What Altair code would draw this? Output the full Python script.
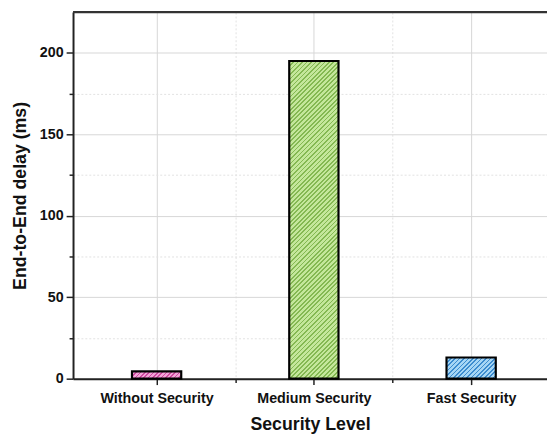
import math
import altair as alt
import pandas as pd

# ---- data ----
categories = ["Without Security", "Medium Security", "Fast Security"]
delays = [4.5, 195.0, 13.0]
base_colors = ["#f3a3d8", "#c4e79b", "#a6d6f5"]
stripe_colors = ["#cf4aa0", "#84b852", "#3d8ccf"]
y_major = [0, 50, 100, 150, 200]
y_minor = [25, 75, 125, 175]

PLOT_W = 481
PLOT_H = 372
Y_MAX = 225
X_MIN, X_MAX = 0.5, 3.451
BAR_W = 50
PERIOD = 3.2  # stripe period (px, perpendicular)
FONT = "Liberation Sans"


def hatch(value, light, dark):
    w = BAR_W
    h = max(value * PLOT_H / Y_MAX, 1.0)
    s = (1 / h + 1 / w) / (1 / h ** 2 + 1 / w ** 2)
    x2, y2 = s / h, s / w
    n = max(int(round((w + h) / math.sqrt(2) / PERIOD)), 1)
    stops = []
    for i in range(n):
        a = i / n
        b = (i + 0.4) / n
        c = (i + 1) / n
        stops += [
            alt.GradientStop(offset=a, color=dark),
            alt.GradientStop(offset=b, color=dark),
            alt.GradientStop(offset=b, color=light),
            alt.GradientStop(offset=c, color=light),
        ]
    return alt.LinearGradient(gradient="linear", stops=stops, x1=0, y1=0, x2=x2, y2=y2)


df = pd.DataFrame({
    "pos": [1, 2, 3],
    "cat": categories,
    "delay": delays,
})

label_expr = " : ".join(
    f"datum.value == {i + 1} ? '{c}'" for i, c in enumerate(categories)
) + " : ''"

x_enc = alt.X(
    "pos:Q",
    scale=alt.Scale(domain=[X_MIN, X_MAX], nice=False, zero=False),
    axis=alt.Axis(
        title="Security Level",
        values=[1, 1.5, 2, 2.5, 3],
        labelExpr=label_expr,
        labelFont=FONT, labelFontSize=14.5, labelFontWeight="bold", labelColor="#111",
        labelPadding=7,
        titleFont=FONT, titleFontSize=18, titleFontWeight="bold", titleColor="#111",
        titlePadding=11,
        domainColor="#222", domainWidth=2,
        tickColor="#222", tickWidth=1.5,
        tickSize={"condition": {"test": "datum.value % 1 != 0", "value": 4}, "value": 6},
        grid=True,
        gridColor={"condition": {"test": "datum.value % 1 != 0", "value": "#e2e2e2"}, "value": "#d6d6d6"},
        gridDash={"condition": {"test": "datum.value % 1 != 0", "value": [2, 2]}, "value": []},
        labelOverlap=False,
        labelFlush=False,
    ),
)

y_enc = alt.Y(
    "delay:Q",
    scale=alt.Scale(domain=[0, Y_MAX], nice=False),
    axis=alt.Axis(
        title="End-to-End delay (ms)",
        values=sorted(y_major + y_minor),
        labelExpr="datum.value % 50 == 0 ? datum.label : ''",
        labelFont=FONT, labelFontSize=14.5, labelFontWeight="bold", labelColor="#111",
        labelPadding=3,
        titleFont=FONT, titleFontSize=18, titleFontWeight="bold", titleColor="#111",
        titlePadding=10,
        domainColor="#222", domainWidth=2,
        tickColor="#222", tickWidth=1.5,
        tickSize={"condition": {"test": "datum.value % 50 != 0", "value": 4}, "value": 7},
        grid=True,
        gridColor={"condition": {"test": "datum.value % 50 != 0", "value": "#e2e2e2"}, "value": "#d6d6d6"},
        gridDash={"condition": {"test": "datum.value % 50 != 0", "value": [2, 2]}, "value": []},
    ),
)

layers = []
for i in range(len(categories)):
    layers.append(
        alt.Chart(df.iloc[[i]])
        .mark_bar(
            size=BAR_W,
            fill=hatch(delays[i], base_colors[i], stripe_colors[i]),
            stroke="#000",
            strokeWidth=2.2,
        )
        .encode(x=x_enc, y=y_enc)
    )

top_border = alt.Chart(pd.DataFrame({"a": [0]})).mark_rule(
    color="#333", strokeWidth=2.5
).encode(x=alt.value(0), x2=alt.value(PLOT_W), y=alt.value(0))

chart = (
    alt.layer(*layers, top_border)
    .properties(
        width=PLOT_W,
        height=PLOT_H,
        autosize=alt.AutoSizeParams(type="none"),
        padding={"left": 66, "top": 1, "right": 0, "bottom": 55},
        background="white",
    )
    .configure_view(stroke=None)
)

chart.save("out.html", embed_options={"renderer": "svg", "actions": False})
